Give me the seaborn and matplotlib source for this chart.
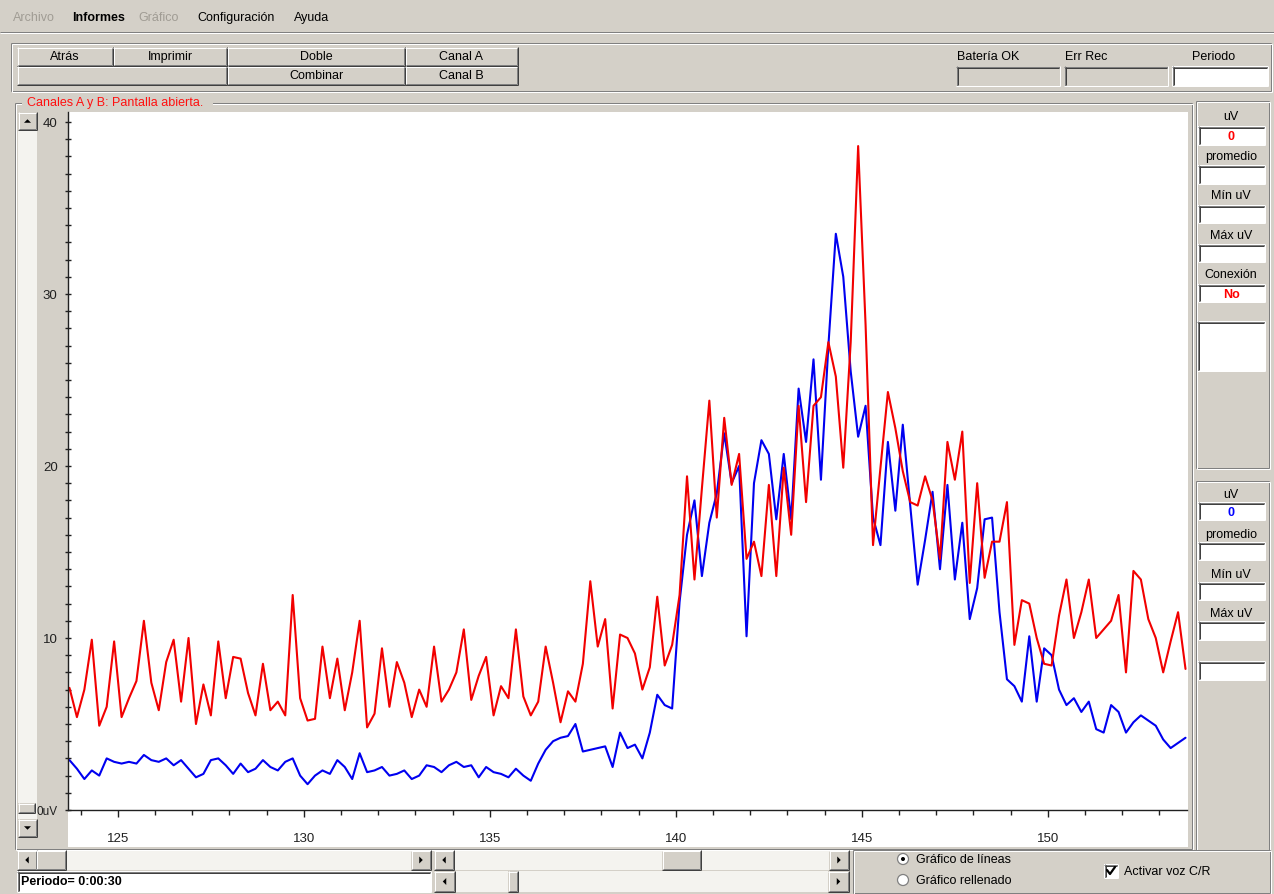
import numpy as np
import pandas as pd
import seaborn as sns
import matplotlib
matplotlib.use("Agg")
import matplotlib.pyplot as plt
from matplotlib.patches import Rectangle, Polygon, Circle

# ---------------- data: two EMG channels, one sample every 0.2 s ----------------
t_start = 123.7
t_step = 0.2
canal_a = [
    7.1, 5.4, 7.0, 9.9, 4.9, 6.0, 9.8, 5.4, 6.5, 7.5,
    11.0, 7.4, 5.8, 8.6, 9.9, 6.3, 10.0, 5.0, 7.3, 5.5,
    9.8, 6.5, 8.9, 8.8, 6.8, 5.5, 8.5, 5.8, 6.3, 5.5,
    12.5, 6.5, 5.2, 5.3, 9.5, 6.5, 8.8, 5.8, 8.0, 11.0,
    4.8, 5.6, 9.4, 6.0, 8.6, 7.4, 5.4, 7.0, 6.0, 9.5,
    6.3, 7.0, 8.0, 10.5, 6.4, 7.8, 8.9, 5.5, 7.2, 6.5,
    10.5, 6.6, 5.5, 6.3, 9.5, 7.4, 5.1, 6.9, 6.3, 8.5,
    13.3, 9.5, 11.1, 5.9, 10.2, 10.0, 9.1, 7.0, 8.3, 12.4,
    8.4, 9.6, 12.5, 19.4, 13.4, 18.7, 23.8, 17.0, 22.8, 18.9,
    20.7, 14.6, 15.6, 13.6, 18.9, 13.6, 19.9, 16.0, 23.5, 17.9,
    23.5, 24.0, 27.2, 25.2, 19.9, 27.2, 38.6, 28.2, 15.4, 19.9,
    24.3, 22.2, 19.7, 17.9, 17.7, 19.4, 18.0, 14.6, 21.4, 19.2,
    22.0, 13.2, 19.0, 13.5, 15.6, 15.6, 17.9, 9.6, 12.2, 12.0,
    10.0, 8.5, 8.4, 11.3, 13.4, 10.0, 11.5, 13.4, 10.0, 10.5,
    11.0, 12.5, 8.0, 13.9, 13.4, 11.1, 10.0, 8.0, 9.8, 11.5, 8.2,
]
canal_b = [
    2.9, 2.4, 1.8, 2.3, 2.0, 3.0, 2.8, 2.7, 2.8, 2.7,
    3.2, 2.9, 2.8, 3.0, 2.6, 2.9, 2.4, 1.9, 2.1, 2.9,
    3.0, 2.6, 2.1, 2.7, 2.2, 2.4, 2.9, 2.5, 2.3, 2.8,
    3.0, 2.0, 1.5, 2.0, 2.3, 2.1, 2.9, 2.5, 1.8, 3.3,
    2.2, 2.3, 2.5, 2.0, 2.1, 2.3, 1.8, 2.0, 2.6, 2.5,
    2.2, 2.6, 2.8, 2.5, 2.6, 1.9, 2.5, 2.2, 2.1, 1.9,
    2.4, 2.0, 1.7, 2.7, 3.5, 4.0, 4.2, 4.3, 5.0, 3.4,
    3.5, 3.6, 3.7, 2.5, 4.5, 3.6, 3.8, 3.0, 4.5, 6.7,
    6.1, 5.9, 12.1, 16.0, 18.0, 13.6, 16.7, 18.4, 21.9, 19.0,
    20.0, 10.1, 19.0, 21.5, 20.7, 16.9, 20.7, 16.9, 24.5, 21.4,
    26.2, 19.2, 27.0, 33.5, 31.0, 25.5, 21.7, 23.5, 17.0, 15.4,
    21.4, 17.4, 22.4, 17.7, 13.1, 15.7, 18.5, 14.0, 18.9, 13.4,
    16.7, 11.1, 12.9, 16.9, 17.0, 11.5, 7.6, 7.2, 6.3, 10.1,
    6.3, 9.4, 9.0, 7.0, 6.1, 6.5, 5.7, 6.3, 4.7, 4.5,
    6.1, 5.7, 4.5, 5.1, 5.5, 5.2, 4.9, 4.1, 3.6, 3.9, 4.2,
]
x_ticks = [125, 130, 135, 140, 145, 150]
x_tick_labels = ["125", "130", "135", "140", "145", "150"]
y_ticks = [0, 10, 20, 30, 40]
y_tick_labels = ["0uV", "10", "20", "30", "40"]

tiempo = np.round(t_start + t_step * np.arange(len(canal_a)), 2)
df = pd.concat([
    pd.DataFrame({"tiempo": tiempo, "uV": canal_a, "canal": "Canal A"}),
    pd.DataFrame({"tiempo": tiempo, "uV": canal_b, "canal": "Canal B"}),
], ignore_index=True)

# ---------------- style ----------------
sns.set_theme(style="white")
plt.rcParams["font.family"] = ["Liberation Sans", "DejaVu Sans"]

W, H = 1274, 895
FACE = "#d4d0c8"
SHADOW = "#808080"
DARK = "#404040"
LIGHT = "#ffffff"
GREYTXT = "#a09c94"

fig = plt.figure(figsize=(W / 100, H / 100), dpi=100, facecolor=FACE)
bg = fig.add_axes([0, 0, 1, 1])
bg.set_xlim(0, W)
bg.set_ylim(H, 0)
bg.axis("off")
bg.set_facecolor(FACE)


def seg(x0, y0, x1, y1, color, lw=1.0, z=3):
    bg.plot([x0, x1], [y0, y1], color=color, lw=lw * 0.72,
            solid_capstyle="butt", zorder=z)


def box(x0, y0, x1, y1, fc, z=1):
    bg.add_patch(Rectangle((x0, y0), x1 - x0, y1 - y0, fc=fc, ec="none", zorder=z))


def raised(x0, y0, x1, y1):
    box(x0, y0, x1, y1, FACE, z=2)
    seg(x0, y0 + .5, x1 - 1, y0 + .5, LIGHT)
    seg(x0 + .5, y0, x0 + .5, y1 - 1, LIGHT)
    seg(x0 + 1, y1 - 1.5, x1 - 1, y1 - 1.5, SHADOW)
    seg(x1 - 1.5, y0 + 1, x1 - 1.5, y1 - 1, SHADOW)
    seg(x0, y1 - .5, x1, y1 - .5, DARK)
    seg(x1 - .5, y0, x1 - .5, y1, DARK)


def sunken(x0, y0, x1, y1, fc=LIGHT):
    box(x0, y0, x1, y1, fc, z=2)
    seg(x0, y0 + .5, x1, y0 + .5, SHADOW)
    seg(x0 + .5, y0, x0 + .5, y1, SHADOW)
    seg(x0 + 1, y0 + 1.5, x1 - 1, y0 + 1.5, DARK)
    seg(x0 + 1.5, y0 + 1, x0 + 1.5, y1 - 1, DARK)
    seg(x0, y1 - .5, x1, y1 - .5, LIGHT)
    seg(x1 - .5, y0, x1 - .5, y1, LIGHT)


def etched(x0, y0, x1, y1):
    for off, c in ((0, SHADOW), (1, LIGHT)):
        xa, ya, xb, yb = x0 + off + .5, y0 + off + .5, x1 - 1 + off + .5, y1 - 1 + off + .5
        seg(xa, ya, xb, ya, c)
        seg(xa, ya, xa, yb, c)
        seg(xa, yb, xb, yb, c)
        seg(xb, ya, xb, yb, c)


def label(x, y, s, size=9, ha="center", color="black", weight="normal", z=5):
    bg.text(x, y, s, fontsize=size, ha=ha, va="center", color=color,
            fontweight=weight, zorder=z)


def tri(cx, cy, d, s=3.5):
    if d == "up":
        pts = [(cx - s, cy + s / 2), (cx + s, cy + s / 2), (cx, cy - s / 2)]
    elif d == "down":
        pts = [(cx - s, cy - s / 2), (cx + s, cy - s / 2), (cx, cy + s / 2)]
    elif d == "left":
        pts = [(cx + s / 2, cy - s), (cx + s / 2, cy + s), (cx - s / 2, cy)]
    else:
        pts = [(cx - s / 2, cy - s), (cx - s / 2, cy + s), (cx + s / 2, cy)]
    bg.add_patch(Polygon(pts, closed=True, fc="black", ec="none", zorder=6))


def hscroll(x0, y0, x1, y1, t0, t1):
    box(x0, y0, x1, y1, "#f4f3ef", z=2)
    h = y1 - y0
    raised(x0, y0, x0 + h, y1)
    tri(x0 + h / 2, (y0 + y1) / 2, "left")
    raised(x1 - h, y0, x1, y1)
    tri(x1 - h / 2, (y0 + y1) / 2, "right")
    raised(t0, y0, t1, y1)


# ---------------- menu bar ----------------
label(13, 18, "Archivo", ha="left", color=GREYTXT)
label(72, 18, "Informes", ha="left", weight="bold")
label(138, 18, "Gráfico", ha="left", color=GREYTXT)
label(197, 18, "Configuración", ha="left")
label(294, 18, "Ayuda", ha="left")
seg(0, 32.5, W, 32.5, SHADOW)
seg(0, 33.5, W, 33.5, LIGHT)

# ---------------- toolbar ----------------
etched(10, 43, 1271, 92)
raised(17, 48, 113, 67)
label(65, 57, "Atrás")
raised(113, 48, 227, 67)
label(170, 57, "Imprimir")
raised(227, 48, 405, 67)
label(316, 57, "Doble")
raised(405, 48, 518, 67)
label(461, 57, "Canal A")
raised(17, 67, 227, 86)
raised(227, 67, 405, 86)
label(316, 76, "Combinar")
raised(405, 67, 518, 86)
label(461, 76, "Canal B")

label(988, 57, "Batería OK")
sunken(956, 67, 1060, 87, fc=FACE)
label(1086, 57, "Err Rec")
sunken(1064, 67, 1168, 87, fc=FACE)
label(1214, 57, "Periodo")
sunken(1172, 67, 1268, 87)

# ---------------- plot group frame ----------------
etched(14, 103, 1192, 850)
box(22, 96, 213, 110, FACE, z=4)
label(27, 103, "Canales A y B: Pantalla abierta.", ha="left", color="#ff1010", z=6)

# vertical level scrollbar on the left
box(18, 113, 37, 838, "#f4f3ef", z=2)
raised(18, 113, 37, 131)
tri(27.5, 122, "up")
raised(18, 820, 37, 838)
tri(27.5, 829, "down")
raised(18, 804, 35, 814)
box(37, 112, 68, 849, FACE, z=2)

# white plotting surface (also under the x tick labels)
box(68, 113, 1188, 848, "white", z=2)

# ---------------- right-hand readout panels ----------------
etched(1195, 101, 1269, 469)
fields1 = [("uV", 117, 127, 146, ("0", "#ff0000")),
           ("promedio", 157, 166, 185, None),
           ("Mín uV", 196, 206, 224, None),
           ("Máx uV", 236, 245, 263, None),
           ("Conexión", 275, 285, 303, ("No", "#ff0000"))]
for name, ly, f0, f1, val in fields1:
    label(1231, ly, name)
    sunken(1198, f0, 1265, f1)
    if val:
        label(1231, (f0 + f1) / 2 + 0.5, val[0], color=val[1], weight="bold")
sunken(1197, 322, 1265, 372)

etched(1195, 481, 1269, 851)
fields2 = [("uV", 495, 503, 521, ("0", "#0000ff")),
           ("promedio", 535, 543, 561, None),
           ("Mín uV", 575, 583, 601, None),
           ("Máx uV", 614, 622, 641, None)]
for name, ly, f0, f1, val in fields2:
    label(1231, ly, name)
    sunken(1198, f0, 1265, f1)
    if val:
        label(1231, (f0 + f1) / 2 + 0.5, val[0], color=val[1], weight="bold")
sunken(1198, 662, 1265, 681)

# ---------------- bottom strip ----------------
hscroll(17, 851, 431, 871, 36, 66)
hscroll(434, 851, 849, 871, 662, 701)
sunken(17, 872, 431, 893)
label(21, 882.5, "Periodo= 0:00:30", ha="left", weight="bold")
hscroll(434, 872, 849, 893, 508, 518)

etched(852, 850, 1270, 894)
for cy, txt, on in ((860, "Gráfico de líneas", True), (881, "Gráfico rellenado", False)):
    bg.add_patch(Circle((903, cy), 5.5, fc="white", ec=SHADOW, lw=0.9, zorder=5))
    if on:
        bg.add_patch(Circle((903, cy), 2.0, fc="black", ec="none", zorder=6))
    label(916, cy, txt, ha="left")
sunken(1104, 865, 1118, 879)
bg.plot([1107, 1110, 1115], [871, 875, 868], color="black", lw=1.6, zorder=6)
label(1124, 872, "Activar voz C/R", ha="left")

# ---------------- signal plot ----------------
ax = fig.add_axes([68 / W, 1 - 811 / H, (1187 - 68) / W, (811 - 113) / H])
ax.set_facecolor("white")
sns.lineplot(data=df, x="tiempo", y="uV", hue="canal",
             hue_order=["Canal B", "Canal A"],
             palette={"Canal A": "#f20000", "Canal B": "#0000f0"},
             linewidth=1.5, legend=False, estimator=None, sort=False, ax=ax)
ax.set_xlim(123.66, 153.74)
ax.set_ylim(0, 40.58)
ax.set_xlabel("")
ax.set_ylabel("")
ax.set_xticks(x_ticks)
ax.set_xticklabels(x_tick_labels)
ax.set_xticks(np.arange(124, 154, 1), minor=True)
ax.set_yticks(y_ticks)
ax.set_yticklabels(y_tick_labels)
ax.set_yticks(np.arange(0, 41, 1), minor=True)
ax.tick_params(which="both", bottom=True, left=True, top=False, right=False)
ax.tick_params(axis="x", which="major", direction="out", length=5, width=1,
               color="#202020", pad=11, labelsize=9.5, labelcolor="#202020")
ax.tick_params(axis="x", which="minor", direction="out", length=3.5, width=1,
               color="#202020")
ax.tick_params(axis="y", which="major", direction="inout", length=5, width=1,
               color="#202020", pad=5, labelsize=9.5, labelcolor="#202020")
ax.tick_params(axis="y", which="minor", direction="inout", length=4, width=1,
               color="#202020")
ax.get_yticklabels()[0].set_fontsize(8.5)
for side in ("top", "right"):
    ax.spines[side].set_visible(False)
for side in ("left", "bottom"):
    ax.spines[side].set_color("#202020")
    ax.spines[side].set_linewidth(1.0)
ax.grid(False)

fig.savefig("out.png", dpi=100, facecolor=FACE)
